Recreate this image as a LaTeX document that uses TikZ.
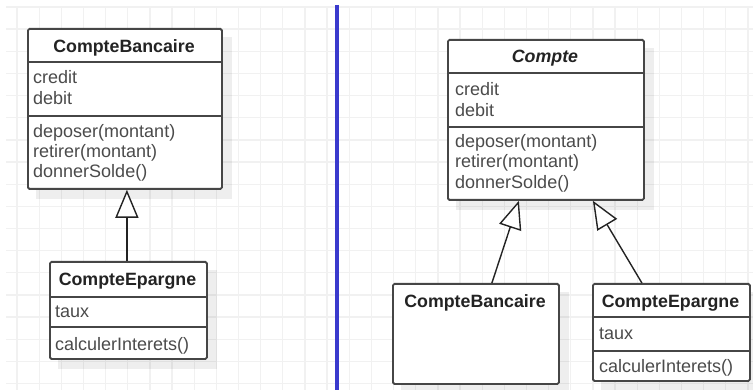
\documentclass[tikz,border=0pt]{standalone}
\usepackage{fontspec}
\setmainfont{Liberation Sans}
\usetikzlibrary{arrows.meta,backgrounds}
\definecolor{boxc}{RGB}{70,70,70}
\definecolor{txtc}{RGB}{75,75,75}
\definecolor{ttlc}{RGB}{35,35,35}
\definecolor{gridc}{RGB}{241,241,241}
\definecolor{sepc}{RGB}{58,58,205}
\begin{document}
\begin{tikzpicture}[x=1pt,y=-1pt,
  umlbox/.style={draw=boxc,line width=1.8pt,fill=white,rounded corners=1.5pt,inner sep=0pt,anchor=north west},
  divider/.style={draw=boxc,line width=1.8pt},
  attr/.style={text=txtc,inner sep=0pt,anchor=base west,font=\fontsize{18}{20}\selectfont},
  ttl/.style={text=ttlc,inner sep=0pt,anchor=base,font=\fontsize{17.8}{20}\selectfont\bfseries},
  inh/.style={draw=ttlc,line width=1.4pt,-{Triangle[fill=white,length=28pt,width=23pt]}},
  shadowc/.style={fill=black,opacity=0.065}
]
\useasboundingbox (0,0) rectangle (753,390);

% ---------- left diagram ----------
\node[umlbox,minimum width=194pt,minimum height=160pt] (cb1) at (27,28) {};
\draw[divider] (cb1.west |- 0,62) -- (cb1.east |- 0,62);
\draw[divider] (cb1.west |- 0,116) -- (cb1.east |- 0,116);
\node[ttl] (cb1t) at (124,53) {CompteBancaire};
\node[attr] (cb1a1) at (33,84) {credit};
\node[attr] (cb1a2) at (33,105) {debit};
\node[attr] (cb1m1) at (33,138) {deposer(montant)};
\node[attr] (cb1m2) at (33,158) {retirer(montant)};
\node[attr] (cb1m3) at (33,178) {donnerSolde()};

\node[umlbox,minimum width=157pt,minimum height=97pt] (ce1) at (49,261) {};
\draw[divider] (ce1.west |- 0,297) -- (ce1.east |- 0,297);
\draw[divider] (ce1.west |- 0,327) -- (ce1.east |- 0,327);
\node[ttl] (ce1t) at (127.5,286) {CompteEpargne};
\node[attr] (ce1a1) at (55,318) {taux};
\node[attr] (ce1m1) at (55,350) {calculerInterets()};

\draw[inh] ([xshift=-1.5pt]ce1.north) -- ([xshift=2pt]cb1.south);

% ---------- right diagram ----------
\node[umlbox,minimum width=196pt,minimum height=160pt] (co) at (447,39) {};
\draw[divider] (co.west |- 0,73) -- (co.east |- 0,73);
\draw[divider] (co.west |- 0,127) -- (co.east |- 0,127);
\node[ttl,font=\fontsize{17.8}{20}\selectfont\bfseries\itshape] (cot) at (545,63) {Compte};
\node[attr] (coa1) at (455,96) {credit};
\node[attr] (coa2) at (455,117) {debit};
\node[attr] (com1) at (455,148) {deposer(montant)};
\node[attr] (com2) at (455,168) {retirer(montant)};
\node[attr] (com3) at (455,189) {donnerSolde()};

\node[umlbox,minimum width=166pt,minimum height=100pt] (cb2) at (392,283) {};
\node[ttl] (cb2t) at (475,308) {CompteBancaire};

\node[umlbox,minimum width=157pt,minimum height=97pt] (ce2) at (592,283) {};
\draw[divider] (ce2.west |- 0,317) -- (ce2.east |- 0,317);
\draw[divider] (ce2.west |- 0,351) -- (ce2.east |- 0,351);
\node[ttl] (ce2t) at (670.5,308) {CompteEpargne};
\node[attr] (ce2a1) at (599,339) {taux};
\node[attr] (ce2m1) at (599,372) {calculerInterets()};

\draw[inh] ([xshift=16pt]cb2.north) -- ([xshift=-27pt]co.south);
\draw[inh] ([xshift=-29.5pt]ce2.north) -- ([xshift=47pt]co.south);

% ---------- background: grid, separator, shadows ----------
\begin{pgfonlayer}{background}
  \foreach \i in {0,...,33} {
    \draw[gridc,line width=1.3pt] ({17+22.15*\i},6) -- ({17+22.15*\i},390);
  }
  \foreach \j in {0,...,17} {
    \draw[gridc,line width=1.3pt] (6,{7+22.15*\j}) -- (753,{7+22.15*\j});
  }
  \foreach \b in {cb1,ce1,co,cb2,ce2} {
    \fill[shadowc] ([shift={(9,9)}]\b.north west) rectangle ([shift={(9,9)}]\b.south east);
  }
\end{pgfonlayer}
\coordinate (septop) at (337,5);
\coordinate (sepbot) at (337,390);
\draw[sepc,line width=4pt] (septop) -- (sepbot);
\end{tikzpicture}
\end{document}
